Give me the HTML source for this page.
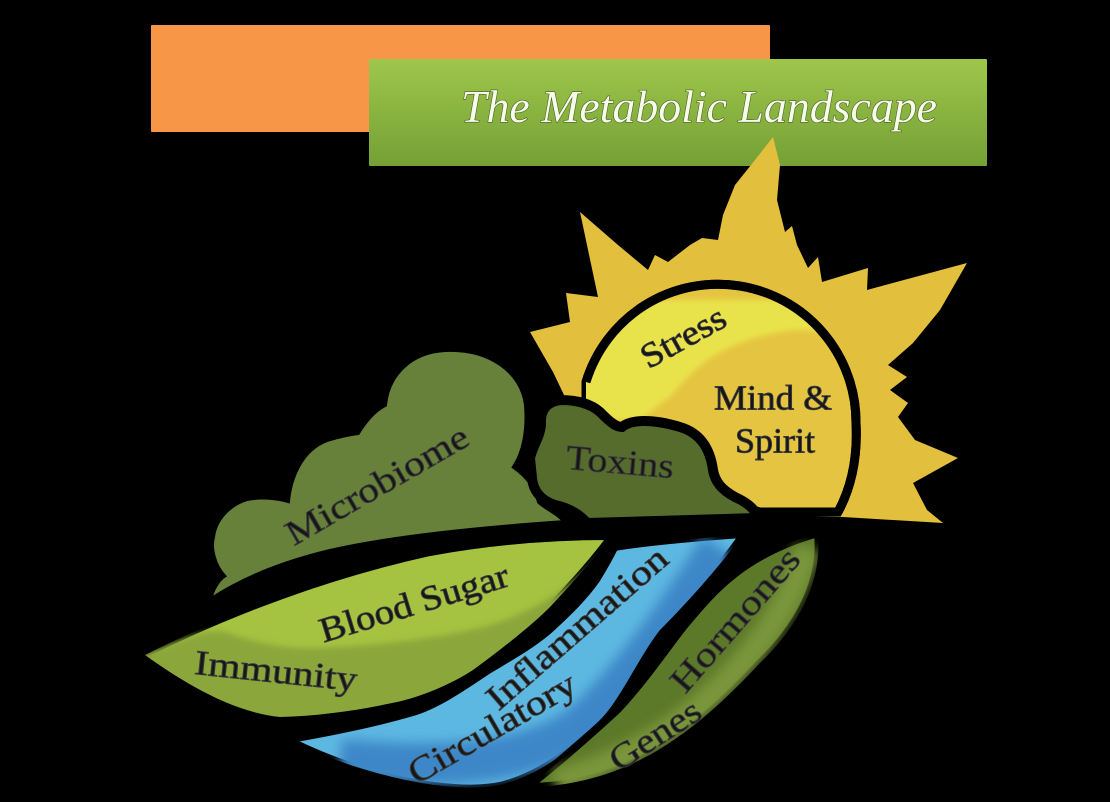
<!DOCTYPE html>
<html><head><meta charset="utf-8">
<style>html,body{margin:0;padding:0;background:#000;}svg{display:block}</style>
</head>
<body>
<svg width="1110" height="802" viewBox="0 0 1110 802" xmlns="http://www.w3.org/2000/svg">
<defs>
<linearGradient id="gbox" x1="0" y1="0" x2="0" y2="1">
<stop offset="0" stop-color="#9EC74B"/><stop offset="1" stop-color="#75A035"/>
</linearGradient>
<filter id="b6" x="-20%" y="-20%" width="140%" height="140%"><feGaussianBlur stdDeviation="6"/></filter>
<filter id="b3" x="-20%" y="-20%" width="140%" height="140%"><feGaussianBlur stdDeviation="3"/></filter>
<clipPath id="cdisk"><path d="M586,382 A138,138 0 0 1 856,423 C858,460 850,490 838,512 L760,512 L600,470 L586,420 Z"/></clipPath>
<clipPath id="cleaf"><path d="M145,655 C230,612 330,575 430,553 C500,540 560,537 610,537 C595,558 575,580 550,607 C530,627 500,650 473,670 C450,685 420,697 397,702 C360,710 320,716 280,717 C230,712 180,680 145,655 Z"/></clipPath>
<clipPath id="criver"><path d="M615,548 C650,542 700,538 742,535 C725,560 690,600 660,630 C640,655 620,700 600,720 C575,748 540,775 500,785 C450,795 360,775 290,740 C325,734 375,724 413,713 C440,705 470,683 490,670 C510,658 530,647 548,632 C570,612 585,597 597,580 C605,567 610,558 615,548 Z"/></clipPath>
<clipPath id="chorm"><path d="M818,533 C822,575 805,620 760,663 C730,695 690,735 640,760 C600,780 560,787 527,787 C550,770 590,735 617,710 C645,680 665,650 683,627 C710,595 740,555 818,533 Z"/></clipPath>
</defs>

<rect width="1110" height="802" fill="#000"/>

<!-- header boxes -->
<rect x="151" y="25" width="619" height="107" fill="#F79646" rx="1"/>
<rect x="369" y="59" width="618" height="107" fill="url(#gbox)" rx="1"/>
<text x="461" y="122" font-family="Liberation Serif, serif" font-style="italic" font-size="46" textLength="476" lengthAdjust="spacingAndGlyphs" fill="#F6FBEA" stroke="#4A5E22" stroke-width="1.2" paint-order="stroke">The Metabolic Landscape</text>

<!-- sun rays -->
<polygon fill="#E3BF3E" points="553,372 530,332 570,322 566,293 598,297 580,212 618,245 648,270 655,255 668,262 690,245 702,238 718,240 723,215 735,185 755,160 773,137 780,165 777,200 785,232 792,226 797,245 808,268 818,257 822,282 868,268 867,290 967,263 940,310 913,343 888,365 907,377 890,390 908,403 898,417 915,440 958,458 913,483 927,510 943,523 843,517 720,515 600,470"/>

<!-- sun disk -->
<path d="M586,382 A138,138 0 0 1 856,423 C858,460 850,490 838,512 L760,512 L600,470 L586,420 Z" fill="#E5C441" stroke="#000" stroke-width="9"/>
<g clip-path="url(#cdisk)">
<path d="M560,300 L900,300 L862,345 Q820,326 787,331 Q745,337 712,357 Q690,372 672,395 L640,420 L560,420 Z" fill="#E9E34C" filter="url(#b3)"/>
</g>
<path d="M586,382 A138,138 0 0 1 856,423 C858,460 850,490 838,512" fill="none" stroke="#000" stroke-width="9"/>

<!-- microbiome -->
<path d="M210,600 C212,590 218,580 224,576 C214,565 210,548 213,537 C215,520 228,505 247,499 C262,496 278,498 288,501 C290,480 300,450 327,440 C340,436 350,434 358,433 C366,420 375,410 385,405 C388,375 410,352 445,350 C490,348 522,372 526,405 C528,430 524,452 514,467 C525,475 535,485 539,502 C548,510 558,513 565,522 C480,528 390,537 330,551 C280,563 240,580 210,600 Z" fill="#67803A" stroke="#000" stroke-width="4"/>

<!-- toxins -->
<path d="M530,458 C533,445 540,437 541,425 C540,412 545,402 560,400 C575,400 590,403 600,412 C608,420 615,427 622,427 C630,420 650,418 680,427 C700,433 710,448 713,470 C715,482 722,490 735,497 C748,503 756,510 758,518 L587,523 C580,515 570,508 555,505 C540,500 533,490 532,478 Z" fill="#566C2D" stroke="#000" stroke-width="10"/>

<!-- blood sugar / immunity leaf -->
<path d="M145,655 C230,612 330,575 430,553 C500,540 560,537 610,537 C595,558 575,580 550,607 C530,627 500,650 473,670 C450,685 420,697 397,702 C360,710 320,716 280,717 C230,712 180,680 145,655 Z" fill="#A5C240" stroke="#000" stroke-width="6"/>
<g clip-path="url(#cleaf)">
<path d="M140,655 C180,640 205,628 225,632 C250,640 280,650 320,648 C370,646 430,640 480,628 C540,612 580,580 615,540 L620,730 L140,730 Z" fill="#8BA73A" filter="url(#b3)"/>
</g>

<!-- river -->
<path d="M615,548 C650,542 700,538 742,535 C725,560 690,600 660,630 C640,655 620,700 600,720 C575,748 540,775 500,785 C450,795 360,775 290,740 C325,734 375,724 413,713 C440,705 470,683 490,670 C510,658 530,647 548,632 C570,612 585,597 597,580 C605,567 610,558 615,548 Z" fill="#5DB8E1" stroke="#000" stroke-width="6"/>
<g clip-path="url(#criver)">
<path d="M720,548 C680,610 640,668 590,718 C550,756 470,772 340,760" fill="none" stroke="#3E87C8" stroke-width="42" filter="url(#b6)"/>
</g>

<!-- hormones / genes leaf -->
<path d="M818,533 C822,575 805,620 760,663 C730,695 690,735 640,760 C600,780 560,787 527,787 C550,770 590,735 617,710 C645,680 665,650 683,627 C710,595 740,555 818,533 Z" fill="#5C7829" stroke="#000" stroke-width="8"/>
<g clip-path="url(#chorm)">
<path d="M808,548 C790,610 745,670 690,715 C645,750 600,770 555,782" fill="none" stroke="#7A963A" stroke-width="26" filter="url(#b6)"/>
</g>

<!-- labels -->
<g font-family="Liberation Serif, serif" fill="#161616" stroke="#3a3a3a" stroke-width="0.9" text-anchor="middle" dominant-baseline="central" font-size="35">
<text transform="translate(683,337) rotate(-29)" textLength="92" lengthAdjust="spacingAndGlyphs">Stress</text>
<text transform="translate(773,398)" textLength="118" lengthAdjust="spacingAndGlyphs">Mind &amp;</text>
<text transform="translate(775,441)" textLength="80" lengthAdjust="spacingAndGlyphs">Spirit</text>
<text transform="translate(620,462) rotate(5)" textLength="108" lengthAdjust="spacingAndGlyphs">Toxins</text>
<text transform="translate(377,485) rotate(-30)" textLength="205" lengthAdjust="spacingAndGlyphs">Microbiome</text>
<text transform="translate(414,603) rotate(-17)" textLength="196" lengthAdjust="spacingAndGlyphs">Blood Sugar</text>
<text transform="translate(276,671) rotate(6)" textLength="163" lengthAdjust="spacingAndGlyphs">Immunity</text>
<text transform="translate(577,628) rotate(-41)" textLength="228" lengthAdjust="spacingAndGlyphs">Inflammation</text>
<text transform="translate(492,728) rotate(-30)" textLength="188" lengthAdjust="spacingAndGlyphs">Circulatory</text>
<text transform="translate(735,620) rotate(-49)" textLength="178" lengthAdjust="spacingAndGlyphs">Hormones</text>
<text transform="translate(655,735) rotate(-33)" textLength="102" lengthAdjust="spacingAndGlyphs">Genes</text>
</g>
</svg>
</body></html>
